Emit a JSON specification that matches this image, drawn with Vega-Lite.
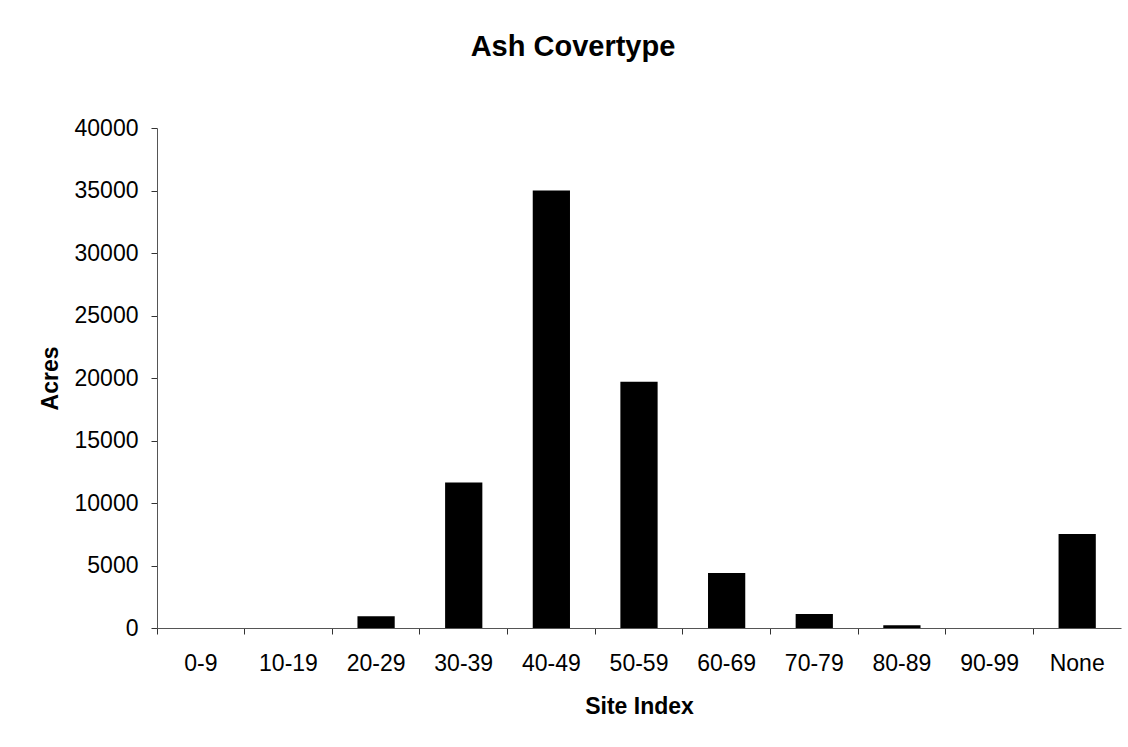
{
  "$schema": "https://vega.github.io/schema/vega-lite/v6.json",
  "autosize": "none",
  "width": 964,
  "height": 500,
  "padding": {"left": 157, "top": 128, "right": 7, "bottom": 119},
  "background": "white",
  "title": {
    "text": "Ash Covertype",
    "font": "Liberation Sans",
    "fontSize": 29,
    "fontWeight": "bold",
    "color": "black",
    "anchor": "middle",
    "frame": "group",
    "baseline": "alphabetic",
    "offset": 32,
    "dx": -66
  },
  "config": {
    "view": {"stroke": null},
    "axis": {
      "labelFont": "Liberation Sans",
      "titleFont": "Liberation Sans",
      "labelFontSize": 23,
      "titleFontSize": 23,
      "titleFontWeight": "bold",
      "labelColor": "black",
      "titleColor": "black",
      "domainColor": "#555555",
      "tickColor": "#333333",
      "tickSize": 6,
      "grid": false
    }
  },
  "data": {
    "values": [
      {"site": "0-9", "acres": 0},
      {"site": "10-19", "acres": 0},
      {"site": "20-29", "acres": 950},
      {"site": "30-39", "acres": 11650},
      {"site": "40-49", "acres": 35000},
      {"site": "50-59", "acres": 19700},
      {"site": "60-69", "acres": 4400},
      {"site": "70-79", "acres": 1120},
      {"site": "80-89", "acres": 220},
      {"site": "90-99", "acres": 0},
      {"site": "None", "acres": 7520}
    ]
  },
  "mark": {"type": "bar", "color": "black", "width": {"band": 0.425}},
  "encoding": {
    "x": {
      "field": "site",
      "type": "nominal",
      "sort": null,
      "scale": {"paddingInner": 0, "paddingOuter": 0},
      "axis": {
        "title": "Site Index",
        "labelAngle": 0,
        "bandPosition": 0,
        "labelBaseline": "alphabetic",
        "labelPadding": 36,
        "titleX": 482,
        "titleY": 85,
        "titleBaseline": "alphabetic",
        "titleAnchor": "middle"
      }
    },
    "y": {
      "field": "acres",
      "type": "quantitative",
      "scale": {"domain": [0, 40000], "nice": false},
      "axis": {
        "title": "Acres",
        "values": [0, 5000, 10000, 15000, 20000, 25000, 30000, 35000, 40000],
        "format": "d",
        "labelPadding": 13,
        "titleX": -100,
        "titleY": 250,
        "titleAngle": -90,
        "titleBaseline": "alphabetic",
        "titleAnchor": "middle"
      }
    }
  }
}
